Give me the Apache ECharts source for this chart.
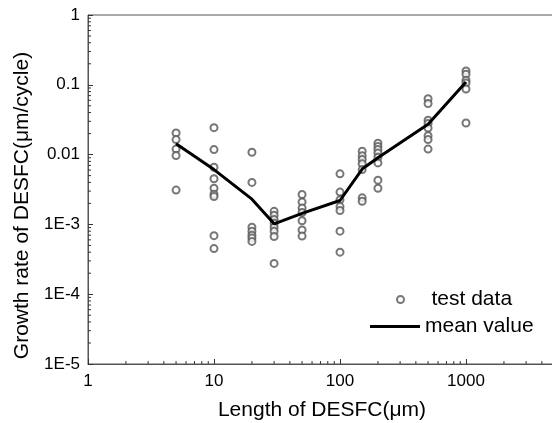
<!DOCTYPE html>
<html>
<head>
<meta charset="utf-8">
<script src="https://cdn.jsdelivr.net/npm/echarts@6/dist/echarts.min.js"></script>
<style>
  html, body { margin: 0; background: #fff; }
  #chart { width: 552px; height: 423px; }
</style>
</head>
<body>
<div id="chart"></div>
<script>
// crack length groups (um)
const lengths = [5, 10, 20, 30, 50, 100, 150, 200, 500, 1000];

// measured growth rates per length group (um/cycle)
const testRates = [
  [0.0204, 0.0164, 0.012, 0.0097, 0.0031],
  [0.0243, 0.0118, 0.0066, 0.0045, 0.0033, 0.0027, 0.0025, 0.00069, 0.00045],
  [0.0108, 0.0040, 0.00091, 0.0008, 0.0007, 0.00064, 0.00057],
  [0.00154, 0.00135, 0.00118, 0.00104, 0.00091, 0.0008, 0.00067, 0.000276],
  [0.00268, 0.0021, 0.00172, 0.00148, 0.00113, 0.00083, 0.00068],
  [0.0053, 0.0029, 0.00225, 0.0018, 0.00158, 0.0008, 0.0004],
  [0.0112, 0.0096, 0.0085, 0.0074, 0.0061, 0.0024, 0.00215],
  [0.0146, 0.0131, 0.0118, 0.0105, 0.0092, 0.0076, 0.0043, 0.0033],
  [0.063, 0.054, 0.031, 0.028, 0.024, 0.0187, 0.0164, 0.012],
  [0.158, 0.142, 0.116, 0.106, 0.087, 0.0284]
];

const meanRates = [0.0143, 0.0061, 0.0023, 0.00102, 0.00144, 0.0022, 0.0062, 0.009, 0.0272, 0.110];

const yTickLabels = ['1E-5', '1E-4', '1E-3', '0.01', '0.1', '1'];
const xDecades = [1, 10, 100, 1000];
const yDecades = [1e-5, 1e-4, 1e-3, 1e-2, 1e-1];
const minorSteps = [2, 3, 4, 5, 6, 7, 8, 9];

const font = 'Liberation Sans, Arial, sans-serif';

const scatterData = [];
lengths.forEach((x, i) => testRates[i].forEach(y => scatterData.push([x, y])));
const meanData = lengths.map((x, i) => [x, meanRates[i]]);

// minor tick positions (log axes only get decade ticks by default)
const xMinor = [];
xDecades.forEach(d => minorSteps.forEach(m => xMinor.push([d * m, 1e-5])));
const yMinor = [];
yDecades.forEach(d => minorSteps.forEach(m => yMinor.push([1, d * m])));

function tick(dx, dy) {
  return (params, api) => {
    const p = api.coord([api.value(0), api.value(1)]);
    return {
      type: 'line',
      shape: { x1: p[0], y1: p[1], x2: p[0] + dx, y2: p[1] + dy },
      style: { stroke: '#333', lineWidth: 1 }
    };
  };
}

const chart = echarts.init(document.getElementById('chart'));
chart.setOption({
  animation: false,
  grid: {
    left: 88, top: 15, right: -40, bottom: 59,
    show: true, borderColor: '#555', borderWidth: 1,
    outerBoundsMode: 'none'
  },
  legend: [{
    data: ['test data'],
    left: 391, top: 284,
    itemWidth: 52, itemHeight: 7,
    textStyle: { fontFamily: font, fontSize: 21, color: '#000' }
  }, {
    data: [{ name: 'mean value', icon: 'rect' }],
    left: 365, top: 311,
    itemWidth: 50, itemHeight: 3,
    textStyle: { fontFamily: font, fontSize: 21, color: '#000' }
  }],
  xAxis: {
    type: 'log', logBase: 10, min: 1, max: 10000,
    name: 'Length of DESFC(μm)',
    nameLocation: 'middle', nameGap: 36,
    nameTextStyle: { fontFamily: font, fontSize: 21, color: '#000', padding: [0, 36, 0, 0] },
    axisLine: { lineStyle: { color: '#555', width: 1 } },
    axisTick: { inside: true, length: 5, lineStyle: { color: '#333' } },
    axisLabel: { fontFamily: font, fontSize: 17, color: '#000', margin: 9, formatter: v => String(v) },
    splitLine: { show: false }
  },
  yAxis: {
    type: 'log', logBase: 10, min: 1e-5, max: 1,
    name: 'Growth rate of DESFC(μm/cycle)',
    nameLocation: 'middle', nameGap: 48,
    nameTextStyle: { fontFamily: font, fontSize: 21, color: '#000', padding: [0, 32, 0, 0] },
    axisLine: { lineStyle: { color: '#555', width: 1 } },
    axisTick: { inside: true, length: 5, lineStyle: { color: '#333' } },
    axisLabel: {
      fontFamily: font, fontSize: 17, color: '#000', margin: 8,
      formatter: v => yTickLabels[Math.round(Math.log10(v)) + 5]
    },
    splitLine: { show: false }
  },
  series: [{
    name: 'test data',
    type: 'scatter',
    symbol: 'emptyCircle',
    symbolSize: 7,
    itemStyle: { color: '#555', borderColor: '#555', borderWidth: 1 },
    data: scatterData,
    z: 3
  }, {
    name: 'mean value',
    type: 'line',
    symbol: 'none',
    lineStyle: { color: '#000', width: 3 },
    itemStyle: { color: '#000' },
    data: meanData,
    z: 4
  }, {
    type: 'custom',
    renderItem: tick(0, -3),
    data: xMinor,
    clip: false,
    silent: true,
    z: 5
  }, {
    type: 'custom',
    renderItem: tick(3, 0),
    data: yMinor,
    clip: false,
    silent: true,
    z: 5
  }]
});
</script>
</body>
</html>
